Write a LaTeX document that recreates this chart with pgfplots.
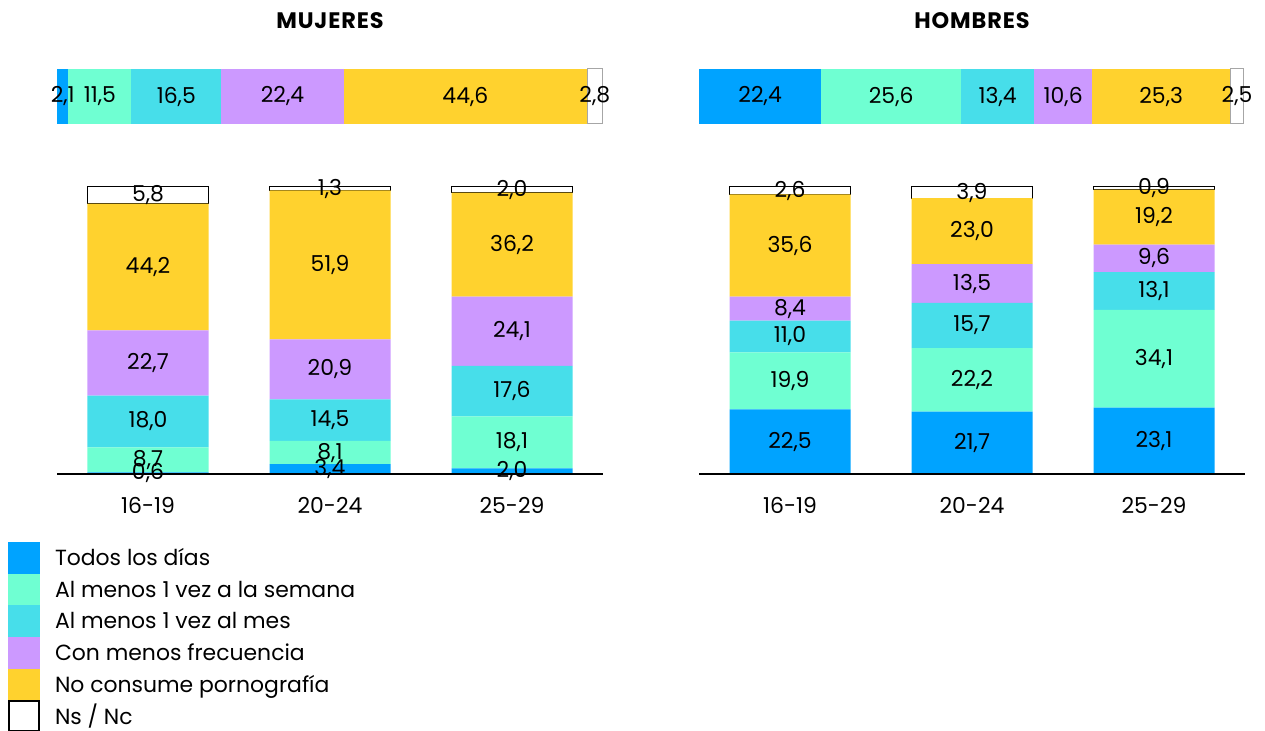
\documentclass[border=0pt]{standalone}
\usepackage{pgfplots}
\usepackage{pgfplotstable}
\pgfplotsset{compat=1.18}
\usepackage{fontspec}
\setmainfont{Poppins}

\definecolor{cA}{HTML}{00A3FF}
\definecolor{cB}{HTML}{6FFFD2}
\definecolor{cC}{HTML}{47DEEA}
\definecolor{cD}{HTML}{CC99FF}
\definecolor{cE}{HTML}{FFD22E}

\pgfplotstableread{
x a b c d e f
0 0.6 8.7 18.0 22.7 44.2 5.8
1 3.4 8.1 14.5 20.9 51.9 1.3
2 2.0 18.1 17.6 24.1 36.2 2.0
}\mujeres
\pgfplotstableread{
x a b c d e f
0 22.5 19.9 11.0 8.4 35.6 2.6
1 21.7 22.2 15.7 13.5 23.0 3.9
2 23.1 34.1 13.1 9.6 19.2 0.9
}\hombres
\pgfplotstableread{
y a b c d e f
0 2.1 11.5 16.5 22.4 44.6 2.8
}\mujerestot
\pgfplotstableread{
y a b c d e f
0 22.4 25.6 13.4 10.6 25.3 2.5
}\hombrestot

\newcommand{\lblfont}{\fontsize{22}{26}\selectfont}
\newcommand{\ttlfont}{\fontsize{22.5}{26}\selectfont\bfseries\addfontfeatures{LetterSpace=4}}

\pgfplotsset{
  lab/.style={only marks, mark=none, point meta=explicit,
    nodes near coords={\pgfmathprintnumber[fixed, fixed zerofill, precision=1, use comma, assume math mode=true]{\pgfplotspointmeta}},
    nodes near coords style={anchor=center, font=\lblfont, inner sep=0pt, text=black}},
  base/.style={scale only axis, enlargelimits=false, clip=false},
  vbars/.style={base, width=546bp, height=287bp, ybar stacked, bar width=121bp,
    xmin=-0.5, xmax=2.5, ymin=0, ymax=100,
    axis x line*=bottom, axis y line=none, axis on top,
    x axis line style={black, line width=1.5bp},
    xtick={0,1,2}, xticklabels={16-19,20-24,25-29}, major tick length=0pt,
    xticklabel style={font=\lblfont, yshift=-20bp}, ytick=\empty},
  vlabs/.style={base, width=546bp, height=287bp, xmin=-0.5, xmax=2.5, ymin=0, ymax=100, hide axis},
  hbar/.style={base, width=546bp, height=55bp, xbar stacked, bar width=55bp,
    xmin=0, xmax=100, ymin=-0.5, ymax=0.5, hide axis},
  hlabs/.style={base, width=546bp, height=55bp, xmin=0, xmax=100, ymin=-0.5, ymax=0.5, hide axis},
}

\begin{document}
\begin{tikzpicture}
\useasboundingbox (0,0) rectangle (1265bp,731bp);

% titles
\node[font=\ttlfont, text height=15.5bp, text depth=0pt, inner sep=0pt] at (330bp,710bp) {MUJERES};
\node[font=\ttlfont, text height=15.5bp, text depth=0pt, inner sep=0pt] at (972bp,710bp) {HOMBRES};

% ---------- MUJERES total ----------
\begin{axis}[hbar, at={(57bp,607bp)}, anchor=south west]
\addplot[fill=cA, draw=none] table[x=a, y=y]{\mujerestot};
\addplot[fill=cB, draw=none] table[x=b, y=y]{\mujerestot};
\addplot[fill=cC, draw=none] table[x=c, y=y]{\mujerestot};
\addplot[fill=cD, draw=none] table[x=d, y=y]{\mujerestot};
\addplot[fill=cE, draw=none] table[x=e, y=y]{\mujerestot};
\addplot[fill=white, draw=gray!70, line width=1bp] table[x=f, y=y]{\mujerestot};
\end{axis}
\begin{axis}[hlabs, at={(57bp,607bp)}, anchor=south west]
\addplot[lab] table[x expr=\thisrow{a}/2, y=y, meta=a]{\mujerestot};
\addplot[lab] table[x expr=\thisrow{a}+\thisrow{b}/2, y=y, meta=b]{\mujerestot};
\addplot[lab] table[x expr=\thisrow{a}+\thisrow{b}+\thisrow{c}/2, y=y, meta=c]{\mujerestot};
\addplot[lab] table[x expr=\thisrow{a}+\thisrow{b}+\thisrow{c}+\thisrow{d}/2, y=y, meta=d]{\mujerestot};
\addplot[lab] table[x expr=\thisrow{a}+\thisrow{b}+\thisrow{c}+\thisrow{d}+\thisrow{e}/2, y=y, meta=e]{\mujerestot};
\addplot[lab] table[x expr=\thisrow{a}+\thisrow{b}+\thisrow{c}+\thisrow{d}+\thisrow{e}+\thisrow{f}/2, y=y, meta=f]{\mujerestot};
\end{axis}

% ---------- HOMBRES total ----------
\begin{axis}[hbar, at={(699bp,607bp)}, anchor=south west]
\addplot[fill=cA, draw=none] table[x=a, y=y]{\hombrestot};
\addplot[fill=cB, draw=none] table[x=b, y=y]{\hombrestot};
\addplot[fill=cC, draw=none] table[x=c, y=y]{\hombrestot};
\addplot[fill=cD, draw=none] table[x=d, y=y]{\hombrestot};
\addplot[fill=cE, draw=none] table[x=e, y=y]{\hombrestot};
\addplot[fill=white, draw=gray!70, line width=1bp] table[x=f, y=y]{\hombrestot};
\end{axis}
\begin{axis}[hlabs, at={(699bp,607bp)}, anchor=south west]
\addplot[lab] table[x expr=\thisrow{a}/2, y=y, meta=a]{\hombrestot};
\addplot[lab] table[x expr=\thisrow{a}+\thisrow{b}/2, y=y, meta=b]{\hombrestot};
\addplot[lab] table[x expr=\thisrow{a}+\thisrow{b}+\thisrow{c}/2, y=y, meta=c]{\hombrestot};
\addplot[lab] table[x expr=\thisrow{a}+\thisrow{b}+\thisrow{c}+\thisrow{d}/2, y=y, meta=d]{\hombrestot};
\addplot[lab] table[x expr=\thisrow{a}+\thisrow{b}+\thisrow{c}+\thisrow{d}+\thisrow{e}/2, y=y, meta=e]{\hombrestot};
\addplot[lab] table[x expr=\thisrow{a}+\thisrow{b}+\thisrow{c}+\thisrow{d}+\thisrow{e}+\thisrow{f}/2, y=y, meta=f]{\hombrestot};
\end{axis}

% ---------- MUJERES by age ----------
\begin{axis}[vbars, at={(57bp,257bp)}, anchor=south west,
  legend style={at={(-0.08974,-0.23693)}, anchor=north west, draw=none, fill=none,
    inner sep=0pt, outer sep=0pt, row sep=0pt, column sep=15bp, font=\lblfont,
    nodes={inner sep=0pt, text height=15.4bp, text depth=0pt}},
  legend cell align=left]
\addplot[fill=cA, draw=none, legend image code/.code={\fill[cA] (0bp,-15.85bp) rectangle (32bp,15.85bp);}] table[x=x, y=a]{\mujeres};
\addlegendentry{Todos los días}
\addplot[fill=cB, draw=none, legend image code/.code={\fill[cB] (0bp,-15.85bp) rectangle (32bp,15.85bp);}] table[x=x, y=b]{\mujeres};
\addlegendentry{Al menos 1 vez a la semana}
\addplot[fill=cC, draw=none, legend image code/.code={\fill[cC] (0bp,-15.85bp) rectangle (32bp,15.85bp);}] table[x=x, y=c]{\mujeres};
\addlegendentry{Al menos 1 vez al mes}
\addplot[fill=cD, draw=none, legend image code/.code={\fill[cD] (0bp,-15.85bp) rectangle (32bp,15.85bp);}] table[x=x, y=d]{\mujeres};
\addlegendentry{Con menos frecuencia}
\addplot[fill=cE, draw=none, legend image code/.code={\fill[cE] (0bp,-15.85bp) rectangle (32bp,15.85bp);}] table[x=x, y=e]{\mujeres};
\addlegendentry{No consume pornografía}
\addplot[fill=white, draw=black, line width=1bp, legend image code/.code={\draw[black, line width=2bp, fill=white] (1bp,-14.85bp) rectangle (31bp,14.85bp);}] table[x=x, y=f]{\mujeres};
\addlegendentry{Ns / Nc}
\end{axis}
\begin{axis}[vlabs, at={(57bp,257bp)}, anchor=south west]
\addplot[lab] table[x=x, y expr=\thisrow{a}/2, meta=a]{\mujeres};
\addplot[lab] table[x=x, y expr=\thisrow{a}+\thisrow{b}/2, meta=b]{\mujeres};
\addplot[lab] table[x=x, y expr=\thisrow{a}+\thisrow{b}+\thisrow{c}/2, meta=c]{\mujeres};
\addplot[lab] table[x=x, y expr=\thisrow{a}+\thisrow{b}+\thisrow{c}+\thisrow{d}/2, meta=d]{\mujeres};
\addplot[lab] table[x=x, y expr=\thisrow{a}+\thisrow{b}+\thisrow{c}+\thisrow{d}+\thisrow{e}/2, meta=e]{\mujeres};
\addplot[lab] table[x=x, y expr=\thisrow{a}+\thisrow{b}+\thisrow{c}+\thisrow{d}+\thisrow{e}+\thisrow{f}/2, meta=f]{\mujeres};
\end{axis}

% ---------- HOMBRES by age ----------
\begin{axis}[vbars, at={(699bp,257bp)}, anchor=south west]
\addplot[fill=cA, draw=none] table[x=x, y=a]{\hombres};
\addplot[fill=cB, draw=none] table[x=x, y=b]{\hombres};
\addplot[fill=cC, draw=none] table[x=x, y=c]{\hombres};
\addplot[fill=cD, draw=none] table[x=x, y=d]{\hombres};
\addplot[fill=cE, draw=none] table[x=x, y=e]{\hombres};
\addplot[fill=white, draw=black, line width=1bp] table[x=x, y=f]{\hombres};
\end{axis}
\begin{axis}[vlabs, at={(699bp,257bp)}, anchor=south west]
\addplot[lab] table[x=x, y expr=\thisrow{a}/2, meta=a]{\hombres};
\addplot[lab] table[x=x, y expr=\thisrow{a}+\thisrow{b}/2, meta=b]{\hombres};
\addplot[lab] table[x=x, y expr=\thisrow{a}+\thisrow{b}+\thisrow{c}/2, meta=c]{\hombres};
\addplot[lab] table[x=x, y expr=\thisrow{a}+\thisrow{b}+\thisrow{c}+\thisrow{d}/2, meta=d]{\hombres};
\addplot[lab] table[x=x, y expr=\thisrow{a}+\thisrow{b}+\thisrow{c}+\thisrow{d}+\thisrow{e}/2, meta=e]{\hombres};
\addplot[lab] table[x=x, y expr=\thisrow{a}+\thisrow{b}+\thisrow{c}+\thisrow{d}+\thisrow{e}+\thisrow{f}/2, meta=f]{\hombres};
\end{axis}
\end{tikzpicture}
\end{document}
